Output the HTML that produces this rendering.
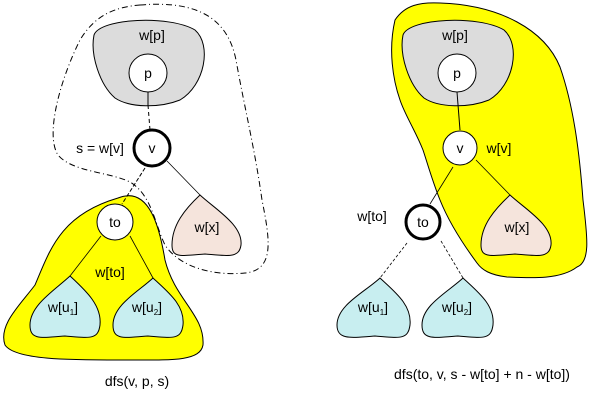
<!DOCTYPE html>
<html><head><style>body{margin:0;background:#fff}svg{display:block}</style></head>
<body>
<svg width="602" height="401" viewBox="0 0 602 401" xmlns="http://www.w3.org/2000/svg" font-family="Liberation Sans, sans-serif" font-size="14" fill="#000">
<!-- LEFT -->
<path d="M140,5 C200,0 228,20 236,60 C245,110 255,150 262,200 C270,240 275,270 245,273 C215,276 180,268 165,245 C155,225 152,195 130,182 C110,172 72,172 58,155 C45,135 60,80 80,40 C95,15 115,7 140,5 Z" fill="none" stroke="#000" stroke-width="1" stroke-dasharray="6,3,1,3"/>
<path d="M94,35 C100,18 170,15 195,30 C212,45 205,85 180,100 C160,108 130,108 115,98 C100,85 90,55 94,35 Z" fill="#dcdcdc" stroke="#000" stroke-width="1"/>
<path d="M118,198 C150,185 160,230 165,260 C175,300 205,315 203,345 C200,362 170,360 120,360 C70,360 15,360 5,345 C-2,325 20,305 35,285 C50,250 60,215 118,198 Z" fill="#ffff00" stroke="#000" stroke-width="1"/>
<line x1="148" y1="92" x2="148" y2="105" stroke="#000"/>
<line x1="148" y1="105" x2="150" y2="130" stroke="#000" stroke-dasharray="4,3"/>
<line x1="145" y1="168" x2="122" y2="204" stroke="#000" stroke-dasharray="4,2"/>
<line x1="167" y1="161" x2="200" y2="195" stroke="#000" stroke-width="0.8"/>
<line x1="101" y1="236" x2="70" y2="276" stroke="#000" stroke-width="0.8"/>
<line x1="130" y1="236" x2="153" y2="278" stroke="#000" stroke-width="0.8"/>
<path d="M70,276 C85,290 102,305 100,325 C98,340 90,338 65,336 C40,338 30,340 30,325 C30,305 55,290 70,276 Z" fill="#c8eef0" stroke="#000"/>
<path d="M153,278 C168,292 185,305 183,325 C181,340 173,338 148,336 C123,338 113,340 113,325 C113,305 138,292 153,278 Z" fill="#c8eef0" stroke="#000"/>
<path d="M200,195 C215,209 243,225 241,245 C239,258 230,256 205,254 C180,256 172,258 172,245 C172,225 185,209 200,195 Z" fill="#f5e4dc" stroke="#000"/>
<circle cx="148" cy="73" r="19" fill="#fff" stroke="#000"/>
<circle cx="152" cy="148" r="18" fill="#fff" stroke="#000" stroke-width="3"/>
<circle cx="115" cy="222" r="18" fill="#fff" stroke="#000"/>
<text x="152" y="40" text-anchor="middle">w[p]</text>
<text x="148" y="78" text-anchor="middle">p</text>
<text x="152" y="153" text-anchor="middle">v</text>
<text x="100" y="153" text-anchor="middle">s = w[v]</text>
<text x="115" y="227" text-anchor="middle">to</text>
<text x="110" y="277" text-anchor="middle">w[to]</text>
<text x="63" y="312" text-anchor="middle">w[u<tspan font-size="8" dy="3">1</tspan><tspan dy="-3">]</tspan></text>
<text x="147" y="312" text-anchor="middle">w[u<tspan font-size="8" dy="3">2</tspan><tspan dy="-3">]</tspan></text>
<text x="207" y="232" text-anchor="middle">w[x]</text>
<text x="137" y="386" text-anchor="middle">dfs(v, p, s)</text>
<!-- RIGHT -->
<path d="M395,20 C405,5 420,2 440,3 C500,5 545,30 560,67 C575,110 580,160 583,200 C588,240 590,262 577,267 C560,280 530,278 507,277 C490,275 482,270 477,263 C460,240 448,220 440,200 C432,180 428,165 423,150 C415,130 405,115 400,100 C393,80 388,50 395,20 Z" fill="#ffff00" stroke="#000"/>
<path d="M403,35 C409,18 479,15 504,30 C521,45 514,85 489,100 C469,108 439,108 424,98 C409,85 399,55 403,35 Z" fill="#dcdcdc" stroke="#000"/>
<line x1="457" y1="92" x2="460" y2="130" stroke="#000"/>
<line x1="453" y1="167" x2="430" y2="204" stroke="#000" stroke-width="0.8"/>
<line x1="476" y1="160" x2="510" y2="195" stroke="#000" stroke-width="0.8"/>
<line x1="407" y1="243" x2="380" y2="278" stroke="#000" stroke-width="0.8" stroke-dasharray="3,2"/>
<line x1="441" y1="241" x2="463" y2="278" stroke="#000" stroke-width="0.8" stroke-dasharray="3,2"/>
<path d="M380,278 C395,292 412,305 410,325 C408,340 400,338 375,336 C350,338 337,340 337,325 C337,305 365,292 380,278 Z" fill="#c8eef0" stroke="#000"/>
<path d="M463,278 C478,292 495,305 493,325 C491,340 483,338 458,336 C433,338 422,340 422,325 C422,305 448,292 463,278 Z" fill="#c8eef0" stroke="#000"/>
<path d="M510,195 C525,209 553,225 551,245 C549,258 540,256 515,254 C490,256 481,258 481,245 C481,225 495,209 510,195 Z" fill="#f5e4dc" stroke="#000"/>
<circle cx="457" cy="73" r="19" fill="#fff" stroke="#000"/>
<circle cx="460" cy="148" r="17" fill="#fff" stroke="#000"/>
<circle cx="423" cy="222" r="17" fill="#fff" stroke="#000" stroke-width="3"/>
<text x="455" y="40" text-anchor="middle">w[p]</text>
<text x="457" y="78" text-anchor="middle">p</text>
<text x="460" y="153" text-anchor="middle">v</text>
<text x="499" y="153" text-anchor="middle">w[v]</text>
<text x="423" y="227" text-anchor="middle">to</text>
<text x="372" y="221" text-anchor="middle">w[to]</text>
<text x="373" y="312" text-anchor="middle">w[u<tspan font-size="8" dy="3">1</tspan><tspan dy="-3">]</tspan></text>
<text x="457" y="312" text-anchor="middle">w[u<tspan font-size="8" dy="3">2</tspan><tspan dy="-3">]</tspan></text>
<text x="517" y="232" text-anchor="middle">w[x]</text>
<text x="482" y="379" text-anchor="middle">dfs(to, v, s - w[to] + n - w[to])</text>
</svg>
</body></html>
